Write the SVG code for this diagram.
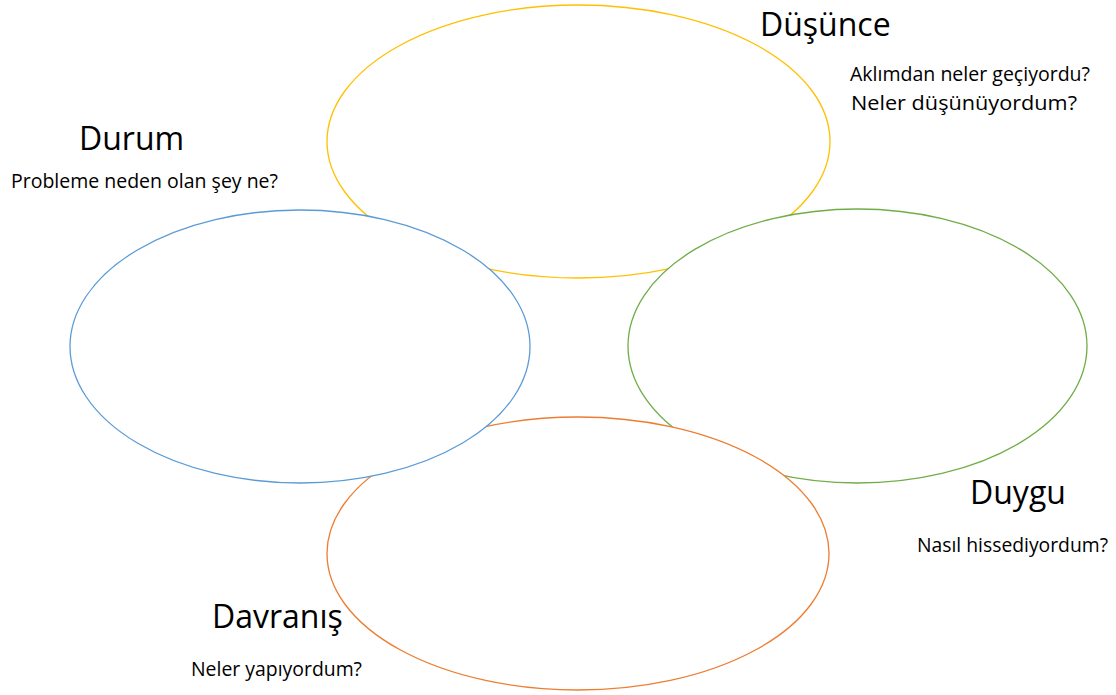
<svg xmlns="http://www.w3.org/2000/svg" width="1116" height="695" viewBox="0 0 1116 695">
<style>
.e{fill:#fff;stroke-width:1.3}
.t{font-family:"Open Sans","Liberation Sans",sans-serif;fill:#000}
.h{font-size:32px}
.s{font-size:20px}
</style>
<rect width="1116" height="695" fill="#fff"/>
<g id="dusunce"><ellipse class="e" cx="578.5" cy="141.5" rx="251.5" ry="136.5" stroke="#FFC000"/></g>
<g id="duygu"><ellipse class="e" cx="857.5" cy="346" rx="229.5" ry="137" stroke="#70AD47"/></g>
<g id="davranis"><ellipse class="e" cx="578" cy="553.5" rx="251" ry="136.5" stroke="#ED7D31"/></g>
<g id="durum"><ellipse class="e" cx="300" cy="346.5" rx="230" ry="136.5" stroke="#5B9BD5"/></g>
<g id="connectors"></g>
<g id="labels">
<text class="t h" x="760" y="36">Düşünce</text>
<text class="t s" x="850" y="81" textLength="240" lengthAdjust="spacingAndGlyphs">Aklımdan neler geçiyordu?</text>
<text class="t s" x="851" y="110" textLength="226" lengthAdjust="spacingAndGlyphs">Neler düşünüyordum?</text>
<text class="t h" x="79" y="150">Durum</text>
<text class="t s" x="11" y="188" textLength="267" lengthAdjust="spacingAndGlyphs">Probleme neden olan şey ne?</text>
<text class="t h" x="970" y="504">Duygu</text>
<text class="t s" x="917" y="552" textLength="191" lengthAdjust="spacingAndGlyphs">Nasıl hissediyordum?</text>
<text class="t h" x="212" y="628">Davranış</text>
<text class="t s" x="191" y="676" textLength="171" lengthAdjust="spacingAndGlyphs">Neler yapıyordum?</text>
</g>
</svg>
